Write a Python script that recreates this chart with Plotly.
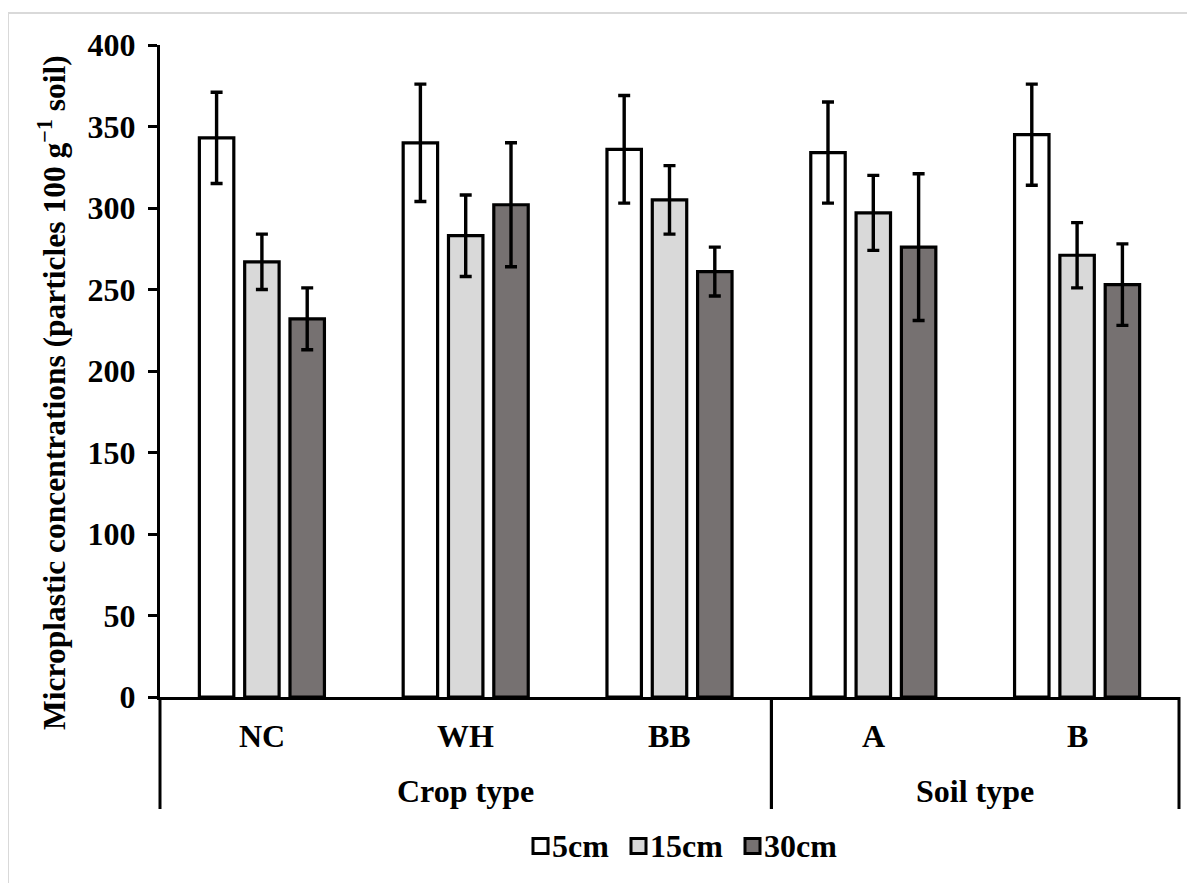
import plotly.graph_objects as go

# ---- data ----
categories = ["NC", "WH", "BB", "A", "B"]
groups = ["Crop type", "Soil type"]
group_spans = [(0, 2), (3, 4)]  # category index ranges per group
series_names = ["5cm", "15cm", "30cm"]
vals_5cm = [343, 340, 336, 334, 345]
vals_15cm = [267, 283, 305, 297, 271]
vals_30cm = [232, 302, 261, 276, 253]
err_5cm = [28, 36, 33, 31, 31]
err_15cm = [17, 25, 21, 23, 20]
err_30cm = [19, 38, 15, 45, 25]
y_ticks = [0, 50, 100, 150, 200, 250, 300, 350, 400]

colors = ["#ffffff", "#d9d9d9", "#767171"]
FONT = "Liberation Serif"
FS = 32

OFF = 8  # body margin of the html page
W, H = 1195 - OFF, 883 - OFF
L, T = 160 - OFF, 45 - OFF
R = W - (1179 - OFF)
B = H - (697 - OFF)
PW = W - L - R
PH = H - T - B


def px_x(px):  # page pixel -> paper
    return (px - OFF - L) / PW


def px_y(py):
    return (H - B - (py - OFF)) / PH


fig = go.Figure()
for name, vals, errs, col in zip(series_names, [vals_5cm, vals_15cm, vals_30cm],
                                 [err_5cm, err_15cm, err_30cm], colors):
    fig.add_trace(go.Bar(
        x=categories, y=vals, name=name,
        marker=dict(color=col, line=dict(color="black", width=3.2)),
        error_y=dict(type="data", array=errs, visible=True, color="black",
                     thickness=3.4, width=6),
        showlegend=False,
    ))

fig.update_layout(
    width=W, height=H,
    margin=dict(l=L, r=R, t=T, b=B, autoexpand=False),
    paper_bgcolor="white", plot_bgcolor="white",
    barmode="group", bargap=0.333, bargroupgap=0.24,
    font=dict(family=FONT, color="black"),
    xaxis=dict(showline=True, linecolor="black", linewidth=3, showticklabels=False,
               ticks="", showgrid=False, zeroline=False),
    yaxis=dict(range=[0, 400], tickvals=y_ticks, showline=True, linecolor="black",
               linewidth=3, ticks="outside", ticklen=9, tickwidth=3, tickcolor="black",
               showgrid=False, zeroline=False, ticklabelstandoff=6,
               tickfont=dict(family=FONT, size=FS, weight="bold", color="black")),
)

shapes = []
annotations = []
# category labels
for c in categories:
    annotations.append(dict(x=c, xref="x", y=px_y(736), yref="paper", text=c,
                            showarrow=False, xanchor="center", yanchor="middle",
                            font=dict(family=FONT, size=FS, weight="bold", color="black")))
# group labels and separators
ncat = len(categories)
for g, (i0, i1) in zip(groups, group_spans):
    xc = (i0 + i1 + 1) / 2 / ncat
    annotations.append(dict(x=xc, xref="paper", y=px_y(791), yref="paper", text=g,
                            showarrow=False, xanchor="center", yanchor="middle",
                            font=dict(family=FONT, size=FS, weight="bold", color="black")))
    for xe in (i0 / ncat, (i1 + 1) / ncat):
        shapes.append(dict(type="line", xref="paper", yref="paper", x0=xe, x1=xe,
                           y0=0, y1=px_y(809), line=dict(color="black", width=3)))

# axis title
annotations.append(dict(x=px_x(52), xref="paper", y=px_y(393), yref="paper",
                        text="Microplastic concentrations (particles 100 g<sup>\u22121</sup> soil)",
                        textangle=-90, showarrow=False, xanchor="center", yanchor="middle",
                        font=dict(family=FONT, size=31.5, weight="bold", color="black")))

# custom legend
leg_starts = [533, 631, 745]
leg_y = 846
sq = 15
for nm, col, x0 in zip(series_names, colors, leg_starts):
    shapes.append(dict(type="rect", xref="paper", yref="paper",
                       x0=px_x(x0), x1=px_x(x0 + sq), y0=px_y(leg_y - sq / 2), y1=px_y(leg_y + sq / 2),
                       fillcolor=col, line=dict(color="black", width=3)))
    annotations.append(dict(x=px_x(x0 + sq + 2), xref="paper", y=px_y(leg_y), yref="paper",
                            text=nm, showarrow=False, xanchor="left", yanchor="middle",
                            font=dict(family=FONT, size=FS, weight="bold", color="black")))

# outer light frame
shapes.append(dict(type="line", xref="paper", yref="paper", x0=px_x(8), x1=px_x(8),
                   y0=px_y(13), y1=px_y(900), line=dict(color="#d9d9d9", width=2)))
shapes.append(dict(type="line", xref="paper", yref="paper", x0=px_x(8), x1=px_x(1210),
                   y0=px_y(13), y1=px_y(13), line=dict(color="#d9d9d9", width=2)))

fig.update_layout(shapes=shapes, annotations=annotations)
fig.write_html("out.html")
